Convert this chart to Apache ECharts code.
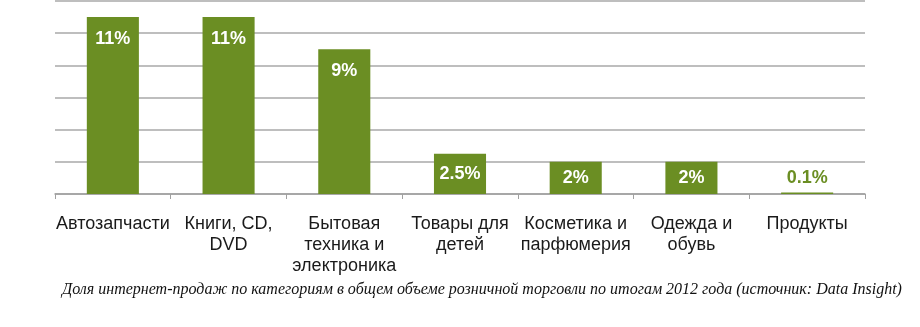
<!DOCTYPE html>
<html><head><meta charset="utf-8">
<script src="https://cdn.jsdelivr.net/npm/echarts@6/dist/echarts.min.js"></script>
<style>html,body{margin:0;padding:0;background:#fff}#c{width:920px;height:327px}</style>
</head><body><div id="c"></div>
<script>
const categories = ["Автозапчасти", "Книги, CD,\nDVD", "Бытовая\nтехника и\nэлектроника", "Товары для\nдетей", "Косметика и\nпарфюмерия", "Одежда и\nобувь", "Продукты"];
const values = [11, 11, 9, 2.5, 2, 2, 0.1];
const valueLabels = ["11%", "11%", "9%", "2.5%", "2%", "2%", "0.1%"];
const caption = "Доля интернет-продаж по категориям в общем объеме розничной торговли по итогам 2012 года (источник: Data Insight)";
const GREEN = "#6b8e23";

const chart = echarts.init(document.getElementById('c'));
const data = values.map((v, i) => {
  let label;
  if (v >= 5) label = { position: 'insideTop', distance: 13, color: '#fff' };
  else if (v >= 1) label = { position: 'inside', color: '#fff' };
  else label = { position: 'top', distance: 5, color: GREEN };
  return { value: v, label: Object.assign({ formatter: valueLabels[i] }, label) };
});
chart.setOption({
  animation: false,
  grid: { left: 55, right: 55, top: 1, bottom: 133, containLabel: false },
  xAxis: {
    type: 'category', data: categories,
    axisLine: { lineStyle: { color: '#a0a0a0', width: 1.5 } },
    axisTick: { show: true, length: 5, lineStyle: { color: '#a0a0a0' } },
    axisLabel: { color: '#1a1a1a', fontFamily: 'Liberation Sans, Arial', fontSize: 18, lineHeight: 21, margin: 20, interval: 0 }
  },
  yAxis: {
    type: 'value', min: 0, max: 12, interval: 2,
    axisLine: { show: false }, axisTick: { show: false }, axisLabel: { show: false },
    splitLine: { lineStyle: { color: '#a8a8a8', width: 1.5 } }
  },
  series: [{
    type: 'bar', data: data, barWidth: '45%',
    itemStyle: { color: GREEN },
    label: { show: true, fontFamily: 'Liberation Sans, Arial', fontWeight: 'bold', fontSize: 18 }
  }],
  graphic: [{
    type: 'text', left: 62, top: 282,
    style: { text: caption, fill: '#111', font: 'italic 16px "Liberation Serif", "Times New Roman", serif' }
  }]
});
</script></body></html>
